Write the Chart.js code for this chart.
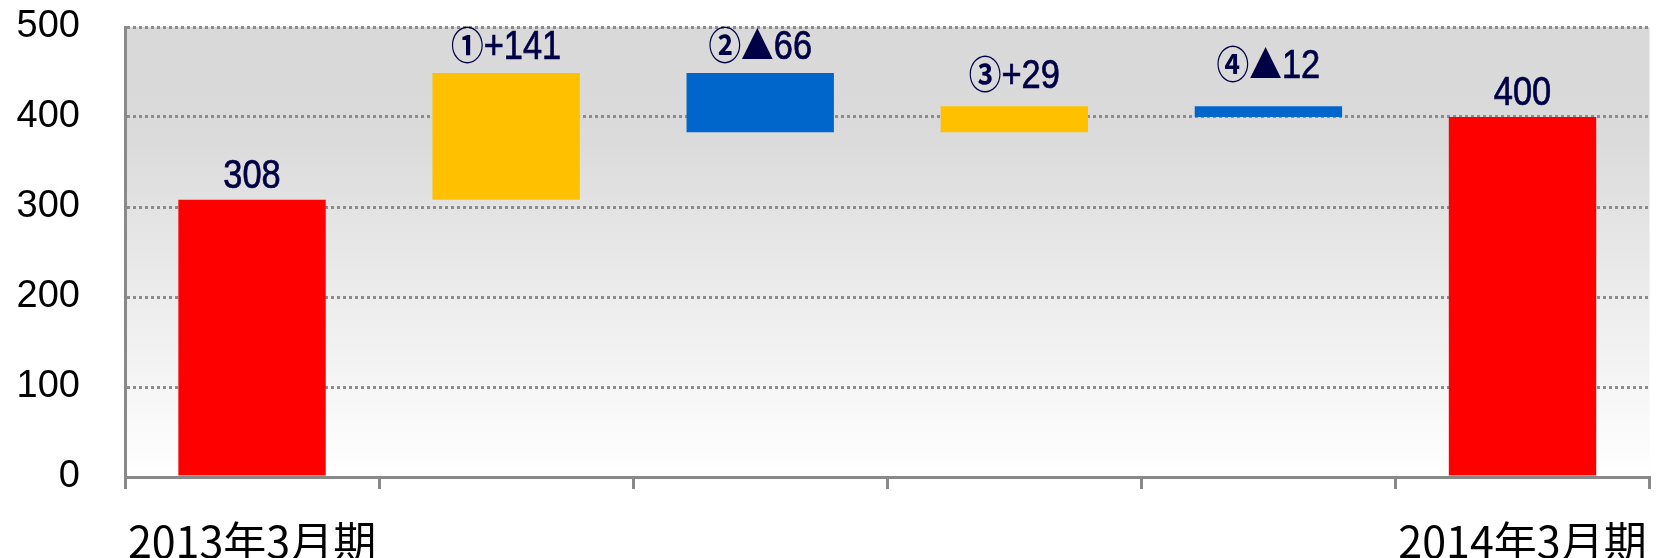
<!DOCTYPE html>
<html>
<head>
<meta charset="utf-8">
<script src="https://cdn.jsdelivr.net/npm/chart.js@4/dist/chart.umd.min.js"></script>
<style>
  body { margin: 0; background: #ffffff; }
  #wrap { width: 1674px; height: 558px; }
</style>
</head>
<body>
<div id="wrap"><canvas id="waterfall" width="1674" height="558"></canvas></div>
<script>
const categories  = ['2013年3月期', '', '', '', '', '2014年3月期'];
const startValue  = 308;
const changes     = [141, -66, 29, -12];
const endValue    = 400;
const labelTexts  = ['308', '①+141', '②▲66', '③+29', '④▲12', '400'];
const yTicks      = [0, 100, 200, 300, 400, 500];

const RED = '#FF0000', YELLOW = '#FFC000', BLUE = '#0066CC';

// floating bars [from, to] built from the start value and the steps
const bars = [[0, startValue]];
const barColors = [RED];
let running = startValue;
changes.forEach(c => {
  bars.push([running, running + c]);
  barColors.push(c >= 0 ? YELLOW : BLUE);
  running += c;
});
bars.push([0, endValue]);
barColors.push(RED);

// small extra lift for the hand-placed labels in the original
const labelLift = [0, 2, 2, 6, 16, 0];

// ── plot background gradient ──
const bgPlugin = {
  id: 'plotBg',
  beforeDraw(chart) {
    const { ctx, chartArea: a } = chart;
    const g = ctx.createLinearGradient(0, a.top, 0, a.bottom);
    g.addColorStop(0, '#d9d9d9');
    g.addColorStop(0.22, '#dadada');
    g.addColorStop(1, '#ffffff');
    ctx.save();
    ctx.fillStyle = g;
    ctx.fillRect(a.left, a.top, a.right - a.left, a.bottom - a.top);
    ctx.restore();
  }
};

// ── value labels above bars ──
// digits in a squeezed latin face, circled numbers and ▲ from the CJK face
const SQUEEZE = 0.86;
const LATIN = "40px 'Liberation Sans'";
const SYMBOL = "bold 38px 'Noto Sans CJK JP'";
const fontFor = ch => /[0-9+\-]/.test(ch) ? LATIN : SYMBOL;

const labelPlugin = {
  id: 'barLabels',
  afterDatasetsDraw(chart) {
    const { ctx } = chart;
    const meta = chart.getDatasetMeta(0);
    ctx.save();
    ctx.fillStyle = '#000046';
    ctx.strokeStyle = '#000046';
    ctx.lineWidth = 0.7;
    ctx.textAlign = 'left';
    ctx.textBaseline = 'alphabetic';
    meta.data.forEach((bar, i) => {
      const chars = [...labelTexts[i]];
      const widths = chars.map(ch => { ctx.font = fontFor(ch); return ctx.measureText(ch).width; });
      const total = widths.reduce((s, w) => s + w, 0);
      const top = Math.min(bar.y, bar.base);
      ctx.save();
      ctx.translate(bar.x, top - 12 - labelLift[i]);
      ctx.scale(SQUEEZE, 1);
      let x = -total / 2;
      chars.forEach((ch, k) => {
        ctx.font = fontFor(ch);
        ctx.fillText(ch, x, 0);
        if (ctx.font.indexOf('Liberation') >= 0) ctx.strokeText(ch, x, 0);
        x += widths[k];
      });
      ctx.restore();
    });
    ctx.restore();
  }
};

new Chart(document.getElementById('waterfall'), {
  type: 'bar',
  data: {
    labels: categories,
    datasets: [{
      data: bars,
      backgroundColor: barColors,
      borderWidth: 0,
      categoryPercentage: 1,
      barPercentage: 0.58
    }]
  },
  options: {
    responsive: false,
    devicePixelRatio: 1,
    animation: false,
    layout: { padding: { top: 27, right: 4, left: 0, bottom: 0 } },
    plugins: { legend: { display: false }, tooltip: { enabled: false } },
    scales: {
      x: {
        afterFit: s => { s.height = 81; },
        grid: {
          offset: true,
          drawOnChartArea: false,
          drawTicks: true,
          tickLength: 12,
          color: '#898989',
          lineWidth: 3
        },
        border: { display: true, color: '#898989', width: 3 },
        ticks: {
          autoSkip: false,
          maxRotation: 0,
          padding: 27,
          color: '#000000',
          font: { family: "'Noto Sans CJK JP'", size: 43 }
        }
      },
      y: {
        min: 0,
        max: 500,
        // tick padding would otherwise push the plot top down
        afterFit: s => { s.width = 125; s.paddingTop = 0; s.paddingBottom = 0; },
        afterBuildTicks: s => { s.ticks = yTicks.map(v => ({ value: v })); },
        grid: { color: '#8c8c8c', lineWidth: 3, drawTicks: false },
        border: { display: true, color: '#898989', width: 3, dash: [3, 3] },
        ticks: {
          padding: 45,
          color: '#000000',
          font: { family: "'Liberation Sans', Arial", size: 38 }
        }
      }
    }
  },
  plugins: [bgPlugin, labelPlugin]
});
</script>
</body>
</html>
